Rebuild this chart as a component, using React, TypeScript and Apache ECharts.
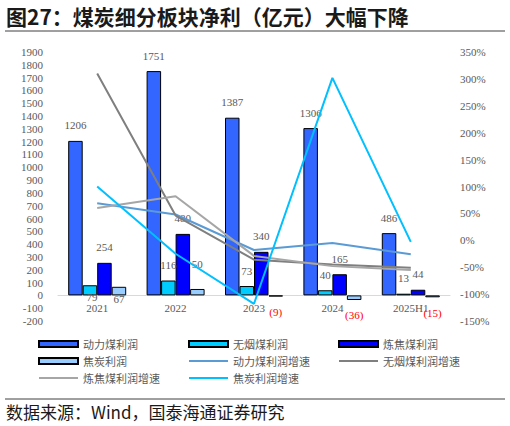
import React, { useEffect, useRef } from "react";
import * as echarts from "echarts";

const categories = ["2021", "2022", "2023", "2024", "2025H1"];
const thermalProfit = [1206, 1751, 1387, 1306, 486];
const anthraciteProfit = [79, 116, 73, 40, 13];
const cokingProfit = [254, 480, 340, 165, 44];
const cokeProfit = [67, 50, -9, -36, -15];
const thermalGrowth = [69, 48, -18, -5, -26];
const anthraciteGrowth = [310, 46, -36, -45, -51];
const cokingGrowth = [60, 82, -29, -48, -55];
const cokeGrowth = [100, -25, -118, 302, -3];
const leftTicks = { min: -200, max: 1900, interval: 100 };
const rightTicks = { min: -150, max: 350, interval: 50 };

const NUM_FONT = "Liberation Serif";
const CJK_FONT = "Noto Sans CJK SC";
const GRAY = "#595959";

// label offsets (styling, not data)
const labelOffsets: Record<string, Record<number, [number, number]>> = {
  anthracite: { 0: [2, 27] },
  coke: { 0: [0, 28], 1: [0, -9] },
};

function barData(values: number[], key: string) {
  return values.map((v, i) => {
    const off = labelOffsets[key] && labelOffsets[key][i];
    const item: any = { value: v };
    if (v < 0) {
      item.label = { position: "bottom", color: "#FF0000" };
    } else if (off) {
      item.label = { offset: off };
    }
    return item;
  });
}

export default function App() {
  const ref = useRef<HTMLDivElement>(null);
  useEffect(() => {
    if (!ref.current) return;
    const chart = echarts.init(ref.current, null, { renderer: "svg" });
    const barLabel = {
      show: true,
      position: "top",
      distance: 10,
      color: GRAY,
      fontSize: 11,
      fontFamily: NUM_FONT,
      formatter: (p: any) => (p.value < 0 ? `(${-p.value})` : `${p.value}`),
    };
    const bar = (name: string, values: number[], key: string, color: string) => ({
      name,
      type: "bar",
      yAxisIndex: 0,
      data: barData(values, key),
      barWidth: 14.5,
      barGap: "0%",
      itemStyle: { color, borderColor: "#000", borderWidth: 1 },
      label: barLabel,
    });
    const line = (name: string, values: number[], color: string) => ({
      name,
      type: "line",
      yAxisIndex: 1,
      data: values,
      symbol: "none",
      showSymbol: false,
      lineStyle: { color, width: 2 },
      itemStyle: { color },
      z: 5,
    });
    const legendBase = {
      orient: "vertical",
      itemWidth: 39,
      itemHeight: 6,
      itemGap: 3,
      padding: 0,
      textStyle: { color: GRAY, fontSize: 11, fontFamily: CJK_FONT, lineHeight: 14 },
    };
    const lineItem = (name: string) => ({ name, itemStyle: { opacity: 0 } });
    const barItem = (name: string) => ({ name, icon: "rect" });
    chart.setOption({
      animation: false,
      grid: { left: 58, right: 60, top: 52, bottom: 105 },
      legend: [
        { ...legendBase, left: 38, top: 337, data: [barItem("动力煤利润"), barItem("焦炭利润"), lineItem("炼焦煤利润增速")] },
        { ...legendBase, left: 188, top: 337, data: [barItem("无烟煤利润"), lineItem("动力煤利润增速"), lineItem("焦炭利润增速")] },
        { ...legendBase, left: 338, top: 337, data: [barItem("炼焦煤利润"), lineItem("无烟煤利润增速")] },
      ],
      xAxis: {
        type: "category",
        data: categories,
        offset: -26,
        axisLine: { show: true, onZero: false, lineStyle: { color: "#D9D9D9", width: 1 } },
        axisTick: { show: false },
        axisLabel: { color: GRAY, fontSize: 11, fontFamily: NUM_FONT, margin: 7 },
      },
      yAxis: [
        {
          type: "value",
          ...leftTicks,
          splitLine: { show: false },
          axisLine: { show: false },
          axisTick: { show: false },
          axisLabel: { color: GRAY, fontSize: 11, fontFamily: NUM_FONT, margin: 15, formatter: (v: number) => String(v) },
        },
        {
          type: "value",
          position: "right",
          ...rightTicks,
          splitLine: { show: false },
          axisLine: { show: false },
          axisTick: { show: false },
          axisLabel: { color: GRAY, fontSize: 11, fontFamily: NUM_FONT, margin: 10, formatter: (v: number) => `${v}%` },
        },
      ],
      series: [
        bar("动力煤利润", thermalProfit, "thermal", "#3366FF"),
        bar("无烟煤利润", anthraciteProfit, "anthracite", "#00CCFF"),
        bar("炼焦煤利润", cokingProfit, "coking", "#0000FF"),
        bar("焦炭利润", cokeProfit, "coke", "#99CCFF"),
        line("动力煤利润增速", thermalGrowth, "#5B9BD5"),
        line("无烟煤利润增速", anthraciteGrowth, "#7F7F7F"),
        line("炼焦煤利润增速", cokingGrowth, "#A6A6A6"),
        line("焦炭利润增速", cokeGrowth, "#00C0FF"),
      ],
      graphic: [
        {
          type: "text",
          left: 6,
          top: 5,
          style: { text: "图27：煤炭细分板块净利（亿元）大幅下降", fill: "#1a1a1a", font: `bold 21px "${CJK_FONT}"` },
        },
        { type: "line", shape: { x1: 5, y1: 31, x2: 505, y2: 31 }, style: { stroke: "#404040", lineWidth: 1 } },
        { type: "line", shape: { x1: 5, y1: 399, x2: 505, y2: 399 }, style: { stroke: "#404040", lineWidth: 1 } },
        {
          type: "text",
          left: 6,
          top: 403,
          style: { text: "数据来源：Wind，国泰海通证券研究", fill: "#1a1a1a", font: `17px "${CJK_FONT}"` },
        },
      ],
    });
    return () => chart.dispose();
  }, []);
  return <div ref={ref} style={{ width: 510, height: 426, position: "absolute", left: 0, top: 0 }} />;
}
